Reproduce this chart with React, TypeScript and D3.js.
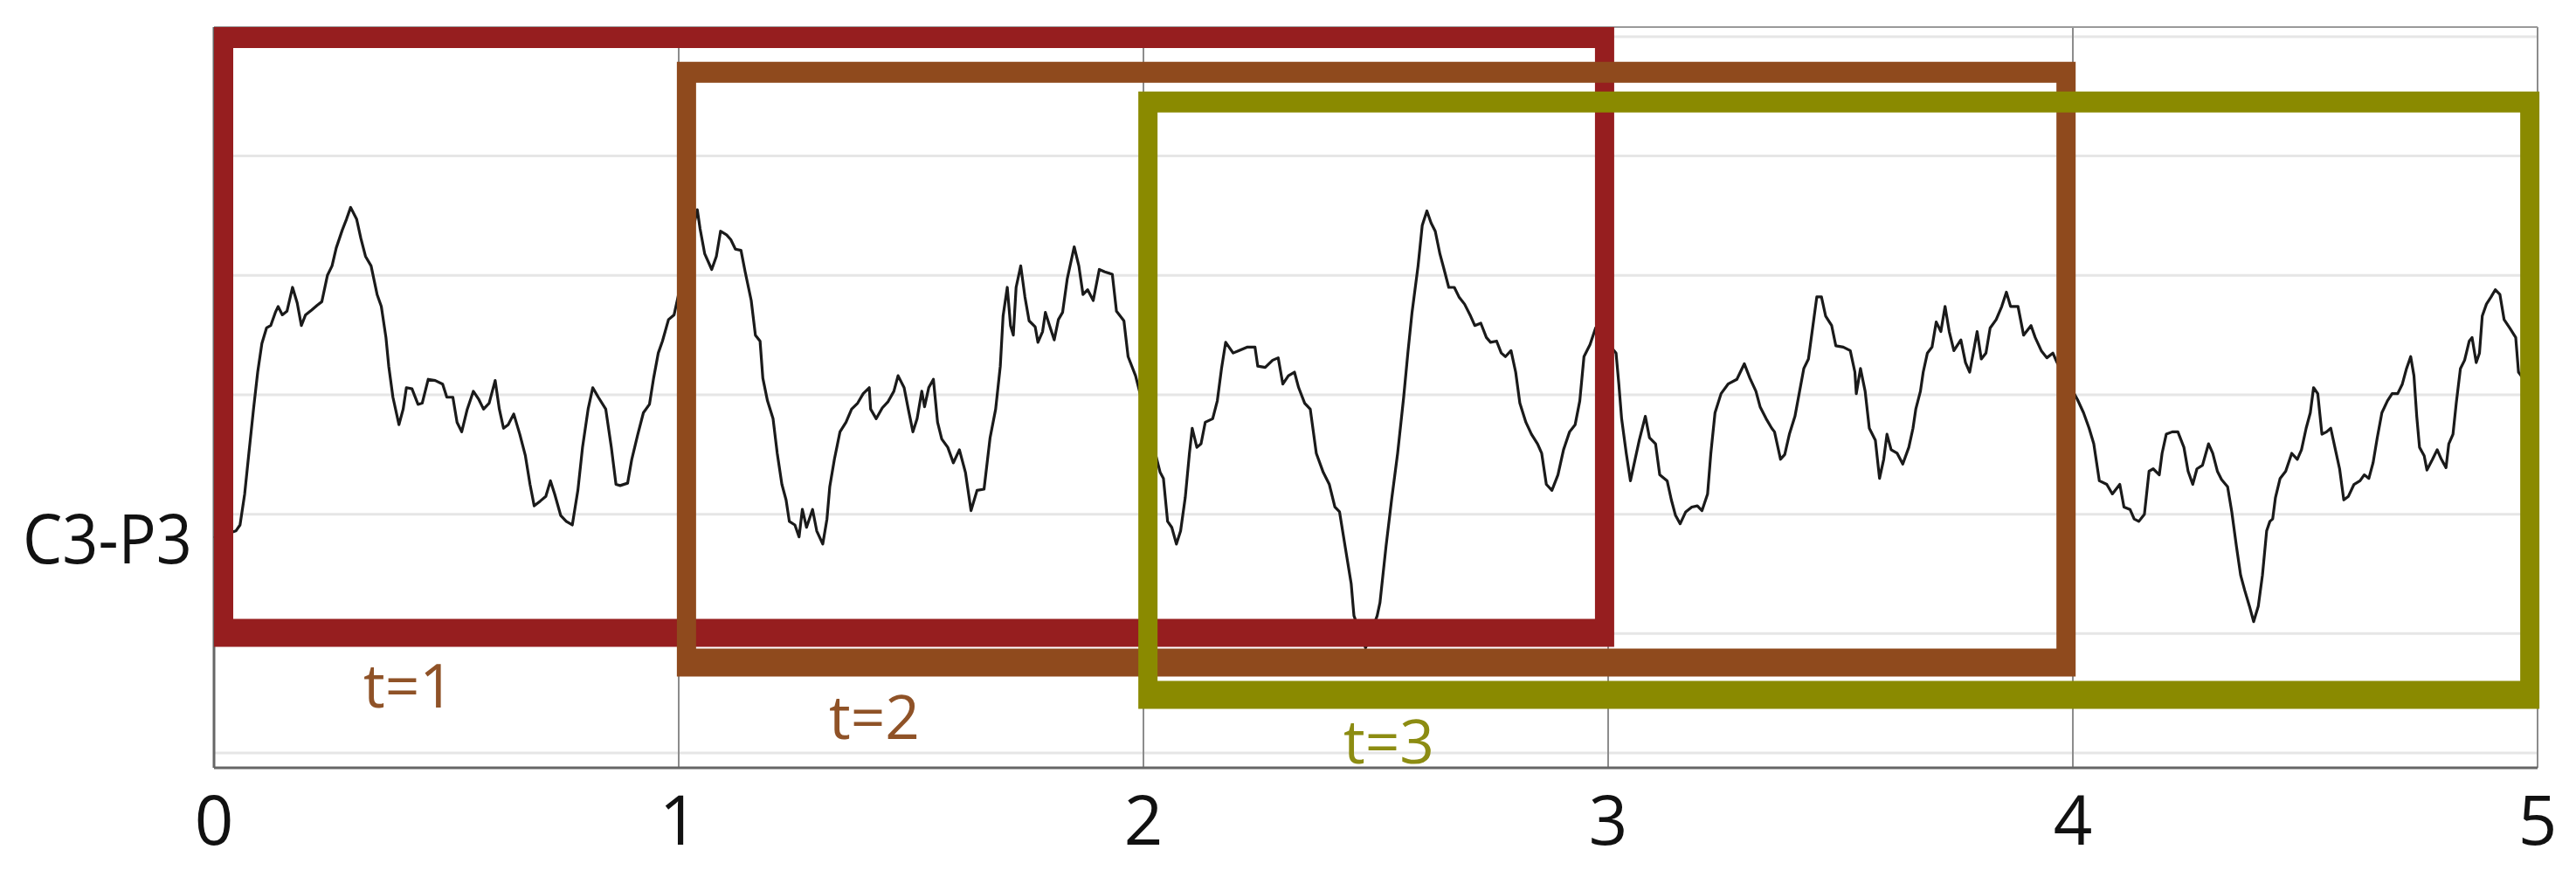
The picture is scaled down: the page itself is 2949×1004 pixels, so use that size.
import React from "react";
import * as d3 from "d3";

// time (s) / amplitude (grid units)
const c3p3: [number, number][] = [
  [0.0, 1.8], [0.047, 1.86], [0.056, 1.91], [0.066, 2.17], [0.075, 2.51], [0.085, 2.88], [0.094, 3.19],
  [0.103, 3.43], [0.113, 3.56], [0.122, 3.58], [0.132, 3.69], [0.138, 3.74], [0.147, 3.67], [0.157, 3.7],
  [0.169, 3.9], [0.179, 3.77], [0.188, 3.58], [0.197, 3.67], [0.21, 3.71], [0.222, 3.75], [0.232, 3.78],
  [0.244, 4.0], [0.254, 4.08], [0.263, 4.23], [0.276, 4.38], [0.285, 4.47], [0.294, 4.57], [0.307, 4.47],
  [0.316, 4.31], [0.326, 4.16], [0.338, 4.08], [0.351, 3.84], [0.36, 3.74], [0.37, 3.48], [0.376, 3.24],
  [0.385, 2.98], [0.398, 2.75], [0.407, 2.88], [0.414, 3.06], [0.426, 3.05], [0.439, 2.92], [0.448, 2.93],
  [0.461, 3.13], [0.476, 3.12], [0.492, 3.09], [0.501, 2.98], [0.514, 2.98], [0.523, 2.77], [0.533, 2.69],
  [0.545, 2.88], [0.558, 3.03], [0.57, 2.96], [0.58, 2.88], [0.592, 2.93], [0.605, 3.12], [0.614, 2.88],
  [0.623, 2.72], [0.633, 2.75], [0.645, 2.84], [0.658, 2.67], [0.67, 2.49], [0.68, 2.25], [0.689, 2.07],
  [0.702, 2.11], [0.714, 2.15], [0.724, 2.28], [0.733, 2.17], [0.746, 1.99], [0.758, 1.94], [0.771, 1.91],
  [0.783, 2.2], [0.793, 2.56], [0.805, 2.88], [0.815, 3.06], [0.827, 2.98], [0.843, 2.88],
  [0.855, 2.56], [0.865, 2.25], [0.874, 2.24], [0.89, 2.26], [0.899, 2.46], [0.912, 2.67], [0.924, 2.85],
  [0.937, 2.92], [0.946, 3.14], [0.956, 3.35], [0.965, 3.45], [0.978, 3.63], [0.99, 3.67],
  [1.04, 4.55], [1.046, 4.39], [1.056, 4.18], [1.071, 4.05], [1.081, 4.16], [1.09, 4.37], [1.103, 4.34],
  [1.112, 4.3], [1.122, 4.22], [1.134, 4.21], [1.143, 4.03], [1.156, 3.79], [1.165, 3.5], [1.175, 3.45],
  [1.181, 3.14], [1.191, 2.95], [1.203, 2.8], [1.212, 2.51], [1.222, 2.25], [1.231, 2.12], [1.238, 1.94],
  [1.25, 1.91], [1.259, 1.81], [1.266, 2.04], [1.275, 1.89], [1.288, 2.04], [1.297, 1.86], [1.31, 1.75],
  [1.319, 1.96], [1.325, 2.23], [1.335, 2.46], [1.347, 2.69], [1.36, 2.77], [1.372, 2.88], [1.385, 2.93],
  [1.397, 3.01], [1.41, 3.06], [1.413, 2.88], [1.425, 2.8], [1.438, 2.89], [1.45, 2.94], [1.463, 3.03],
  [1.472, 3.16], [1.485, 3.06], [1.494, 2.88], [1.504, 2.69], [1.513, 2.8], [1.523, 3.03], [1.529, 2.9],
  [1.538, 3.06], [1.548, 3.13], [1.557, 2.77], [1.566, 2.63], [1.579, 2.56], [1.591, 2.43], [1.604, 2.54],
  [1.617, 2.35], [1.629, 2.03], [1.642, 2.2], [1.657, 2.21], [1.67, 2.64],
  [1.682, 2.88], [1.692, 3.24], [1.698, 3.66], [1.707, 3.9], [1.714, 3.58], [1.72, 3.5], [1.726, 3.9],
  [1.736, 4.08], [1.745, 3.82], [1.754, 3.62], [1.767, 3.57], [1.773, 3.44], [1.783, 3.53], [1.789, 3.69],
  [1.798, 3.58], [1.808, 3.46], [1.817, 3.63], [1.826, 3.69], [1.836, 3.97], [1.851, 4.24], [1.861, 4.08],
  [1.87, 3.84], [1.88, 3.88], [1.892, 3.79], [1.905, 4.05], [1.917, 4.03], [1.933, 4.01], [1.942, 3.7],
  [1.958, 3.62], [1.967, 3.32], [1.983, 3.16],
  [2.036, 2.35], [2.043, 2.3], [2.052, 1.94], [2.061, 1.89], [2.071, 1.75], [2.08, 1.86], [2.09, 2.14],
  [2.099, 2.51], [2.105, 2.72], [2.115, 2.56], [2.124, 2.59], [2.133, 2.77], [2.149, 2.8], [2.159, 2.95],
  [2.168, 3.22], [2.177, 3.44], [2.193, 3.35], [2.205, 3.37], [2.224, 3.4], [2.24, 3.4], [2.246, 3.24],
  [2.262, 3.23], [2.278, 3.29], [2.29, 3.31], [2.3, 3.09], [2.312, 3.16], [2.325, 3.19], [2.334, 3.06],
  [2.347, 2.93], [2.359, 2.88], [2.372, 2.51], [2.387, 2.35], [2.4, 2.25], [2.412, 2.06], [2.422, 2.02],
  [2.434, 1.73], [2.447, 1.42], [2.453, 1.15], [2.478, 0.88], [2.503, 1.15],
  [2.509, 1.26], [2.522, 1.73], [2.534, 2.12], [2.547, 2.51], [2.56, 2.98], [2.569, 3.35], [2.578, 3.69],
  [2.591, 4.08], [2.6, 4.42], [2.61, 4.54], [2.619, 4.44], [2.628, 4.37], [2.638, 4.18], [2.647, 4.05],
  [2.657, 3.9], [2.669, 3.9], [2.679, 3.82], [2.691, 3.76], [2.704, 3.66], [2.713, 3.58], [2.726, 3.6],
  [2.738, 3.48], [2.747, 3.44], [2.76, 3.45], [2.77, 3.35], [2.779, 3.32], [2.791, 3.37], [2.801, 3.19],
  [2.81, 2.93], [2.823, 2.77], [2.835, 2.67], [2.848, 2.59], [2.857, 2.51], [2.867, 2.25], [2.879, 2.2],
  [2.892, 2.33], [2.904, 2.54], [2.917, 2.69], [2.929, 2.75], [2.939, 2.95], [2.948, 3.32], [2.961, 3.42],
  [2.973, 3.56],
  [3.017, 3.35], [3.023, 3.09], [3.029, 2.8], [3.039, 2.51], [3.048, 2.28], [3.058, 2.46], [3.067, 2.62],
  [3.08, 2.82], [3.089, 2.64], [3.102, 2.59], [3.111, 2.33], [3.127, 2.28], [3.136, 2.12], [3.145, 1.99],
  [3.155, 1.92], [3.167, 2.02], [3.18, 2.06], [3.192, 2.07], [3.202, 2.03], [3.214, 2.17], [3.221, 2.51],
  [3.23, 2.85], [3.243, 3.01], [3.258, 3.09], [3.277, 3.13], [3.293, 3.26], [3.305, 3.14], [3.318, 3.03],
  [3.327, 2.9], [3.34, 2.8], [3.352, 2.72],
  [3.358, 2.69], [3.371, 2.46], [3.38, 2.5], [3.39, 2.67], [3.402, 2.82], [3.412, 3.03], [3.421, 3.22],
  [3.431, 3.3], [3.44, 3.56], [3.449, 3.82], [3.459, 3.82], [3.468, 3.66], [3.481, 3.58], [3.49, 3.41],
  [3.506, 3.4], [3.521, 3.37], [3.531, 3.19], [3.534, 3.01], [3.543, 3.22], [3.553, 3.03], [3.562, 2.72],
  [3.575, 2.62], [3.584, 2.3], [3.593, 2.46], [3.6, 2.67], [3.609, 2.54], [3.622, 2.51], [3.634, 2.42],
  [3.647, 2.56], [3.656, 2.72], [3.662, 2.88], [3.672, 3.03], [3.678, 3.19], [3.687, 3.35], [3.697, 3.4],
  [3.706, 3.61], [3.716, 3.53], [3.725, 3.74], [3.734, 3.53], [3.744, 3.37], [3.759, 3.46], [3.769, 3.27],
  [3.778, 3.19], [3.788, 3.4], [3.794, 3.53], [3.803, 3.3], [3.813, 3.35], [3.822, 3.56], [3.835, 3.63],
  [3.847, 3.74], [3.857, 3.86], [3.866, 3.74], [3.882, 3.74], [3.894, 3.5], [3.91, 3.58], [3.919, 3.48],
  [3.932, 3.37], [3.944, 3.31], [3.957, 3.35], [3.966, 3.27],
  [4.01, 2.96], [4.023, 2.85], [4.035, 2.72], [4.045, 2.59], [4.057, 2.28], [4.073, 2.25], [4.085, 2.17],
  [4.101, 2.25], [4.11, 2.06], [4.123, 2.04], [4.132, 1.96], [4.142, 1.94], [4.154, 2.0], [4.164, 2.36],
  [4.173, 2.38], [4.186, 2.33],
  [4.192, 2.51], [4.201, 2.67], [4.214, 2.69], [4.226, 2.69], [4.239, 2.56], [4.248, 2.36], [4.258, 2.25],
  [4.267, 2.38], [4.279, 2.41], [4.292, 2.59], [4.301, 2.51], [4.311, 2.36], [4.32, 2.29], [4.333, 2.23],
  [4.342, 2.02], [4.352, 1.73], [4.361, 1.49], [4.37, 1.36], [4.38, 1.23], [4.389, 1.1], [4.399, 1.23],
  [4.408, 1.49], [4.417, 1.86], [4.424, 1.94], [4.43, 1.96], [4.436, 2.14], [4.446, 2.3], [4.458, 2.36],
  [4.471, 2.51], [4.483, 2.46], [4.492, 2.54], [4.502, 2.72], [4.511, 2.85], [4.518, 3.06], [4.527, 3.01],
  [4.536, 2.67], [4.546, 2.69], [4.555, 2.72], [4.565, 2.54], [4.574, 2.38], [4.583, 2.12], [4.593, 2.15],
  [4.605, 2.25], [4.618, 2.28], [4.627, 2.33], [4.637, 2.3], [4.646, 2.43], [4.655, 2.64], [4.665, 2.85],
  [4.677, 2.95], [4.687, 3.01], [4.699, 3.01], [4.709, 3.09], [4.718, 3.22], [4.727, 3.32], [4.734, 3.16],
  [4.74, 2.82], [4.746, 2.56], [4.756, 2.49], [4.762, 2.37], [4.774, 2.46], [4.784, 2.54], [4.793, 2.46],
  [4.803, 2.39], [4.809, 2.59], [4.818, 2.67], [4.825, 2.93], [4.834, 3.22], [4.843, 3.29], [4.853, 3.45],
  [4.859, 3.48], [4.868, 3.27], [4.875, 3.35], [4.881, 3.66], [4.89, 3.76], [4.9, 3.82], [4.909, 3.88],
  [4.919, 3.84], [4.928, 3.63], [4.94, 3.56], [4.953, 3.48], [4.959, 3.19], [4.985, 3.05],
];

const channel = "C3-P3";
const timeTicks = [0, 1, 2, 3, 4, 5];
const gridLevels = [0, 1, 2, 3, 4, 5, 6];

// analysis windows: start/end time and top/bottom amplitude of the outer edge
const windowLabels = ["t=1", "t=2", "t=3"];
const windowStart = [0.0, 0.996, 1.989];
const windowEnd = [3.013, 4.006, 5.004];
const windowTop = [6.08, 5.79, 5.54];
const windowBottom = [0.89, 0.64, 0.37];

const boxColors = ["#961e1f", "#8f4a1d", "#8a8a00"];
const labelColors = ["#8f5227", "#8f5227", "#8c8c12"];
const labelAt = [
  { x: 468, y: 810 },
  { x: 1001, y: 846 },
  { x: 1590, y: 874 },
];

const W = 2949;
const H = 1004;
const font = "'Open Sans', 'DejaVu Sans', sans-serif";

export default function App() {
  const x = d3.scaleLinear().domain([0, 5]).range([245, 2905]);
  const y = d3.scaleLinear().domain([-0.124, 6.08]).range([879, 31]);

  const line = d3
    .line<[number, number]>()
    .x(d => x(d[0]))
    .y(d => y(d[1]));

  const side = 22;
  const topW = 24;
  const botW = 32;

  const frame = (i: number) => {
    const x0 = x(windowStart[i]);
    const x1 = x(windowEnd[i]);
    const y0 = y(windowTop[i]);
    const y1 = y(windowBottom[i]);
    return (
      `M${x0},${y0}H${x1}V${y1}H${x0}Z` +
      `M${x0 + side},${y0 + topW}H${x1 - side}V${y1 - botW}H${x0 + side}Z`
    );
  };

  return (
    <svg
      width={W}
      height={H}
      style={{ position: "absolute", left: 0, top: 0, background: "#fff" }}
    >
      <rect width={W} height={H} fill="#fff" />
      <g className="grid">
        {gridLevels.map(v => (
          <line key={`h${v}`} x1={x(0)} x2={x(5)} y1={y(v)} y2={y(v)} stroke="#e6e6e6" strokeWidth={3} />
        ))}
        {timeTicks.map(t => (
          <line key={`v${t}`} x1={x(t)} x2={x(t)} y1={31} y2={879} stroke="#8c8c8c" strokeWidth={2} />
        ))}
        <line x1={x(0)} x2={x(5)} y1={31} y2={31} stroke="#9a9a9a" strokeWidth={2} />
        <line x1={x(0)} x2={x(5)} y1={879} y2={879} stroke="#666" strokeWidth={3} />
        <line x1={x(0)} x2={x(0)} y1={31} y2={879} stroke="#666" strokeWidth={3} />
      </g>

      <path d={line(c3p3) || ""} fill="none" stroke="#1a1a1a" strokeWidth={3.2} strokeLinejoin="round" />

      {windowLabels.map((lab, i) => (
        <path key={lab} d={frame(i)} fill={boxColors[i]} fillRule="evenodd" />
      ))}

      {windowLabels.map((lab, i) => (
        <text
          key={`l${lab}`}
          x={labelAt[i].x}
          y={labelAt[i].y}
          textAnchor="middle"
          fontFamily={font}
          fontSize={70}
          textLength={104}
          lengthAdjust="spacingAndGlyphs"
          fill={labelColors[i]}
        >
          {lab}
        </text>
      ))}

      <text
        x={26}
        y={645}
        fontFamily={font}
        fontSize={79}
        textLength={194}
        lengthAdjust="spacingAndGlyphs"
        fill="#111"
      >
        {channel}
      </text>

      {timeTicks.map(t => (
        <text
          key={`t${t}`}
          x={x(t)}
          y={967}
          textAnchor="middle"
          fontFamily={font}
          fontSize={78}
          fill="#111"
        >
          {t}
        </text>
      ))}
    </svg>
  );
}
